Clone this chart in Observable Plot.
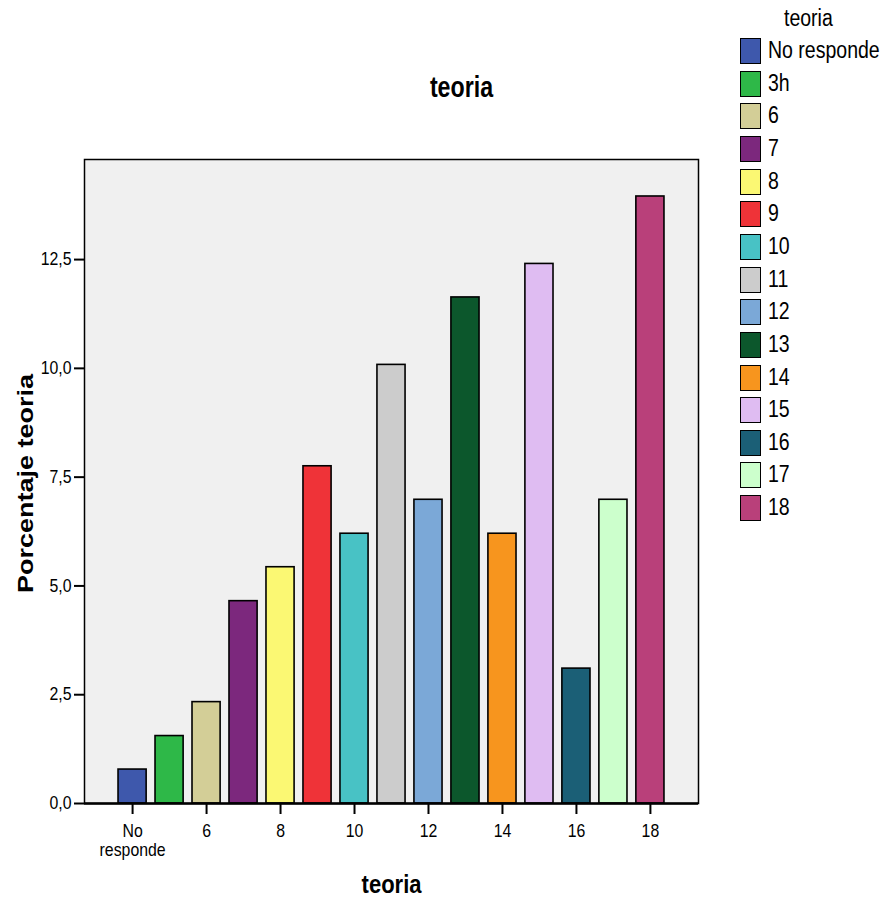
<!DOCTYPE html>
<html><head><meta charset="utf-8">
<script src="https://cdn.jsdelivr.net/npm/d3@7"></script>
<script src="https://cdn.jsdelivr.net/npm/@observablehq/plot@0.6"></script>
<style>
body{margin:0;background:#fff;}
#wrap{position:relative;width:884px;height:898px;font-family:"Liberation Sans",Arial,sans-serif;color:#000;}
#wrap svg{position:absolute;left:0;top:0;}
#title{position:absolute;left:361px;width:200px;top:70px;text-align:center;font-weight:bold;font-size:29px;line-height:34px;}
#title span{display:inline-block;transform:scaleX(0.8);transform-origin:center;}
#legend{position:absolute;left:740px;top:0;font-size:23.5px;}
#legend .lt{position:absolute;left:8px;width:120px;text-align:center;top:4px;white-space:nowrap;line-height:28px;}
#legend .lt span{display:inline-block;transform:scaleX(0.83);transform-origin:center;}
#legend .it{position:absolute;left:0;height:26px;white-space:nowrap;}
#legend .sw{position:absolute;left:0;top:0;width:19px;height:24px;border:1.5px solid #000;}
#legend .tx{position:absolute;left:28px;top:-2px;line-height:28px;transform:scaleX(0.83);transform-origin:left;}
</style>
</head><body><div id="wrap"><div id="title"></div><div id="legend"></div></div>
<script>
const categories = ["No responde","3h","6","7","8","9","10","11","12","13","14","15","16","17","18"];
const percents = [0.78,1.55,2.33,4.65,5.43,7.75,6.20,10.08,6.98,11.63,6.20,12.40,3.10,6.98,13.95];
const colors = ["#3e58ac","#2eb848","#d3ce97","#7c287d","#fbf873","#ef3338","#48c2c5","#cccccc","#7ba8d7","#0c572c","#f7951e","#dfbcf2","#1b5f76","#ccffcc","#b9407a"];
const xTickLabels = ["No responde","6","8","10","12","14","16","18"];
const yTicks = [0,2.5,5,7.5,10,12.5];
const titleText = "teoria";
const xLabel = "teoria";
const yLabel = "Porcentaje teoria";
const legendTitle = "teoria";

const font = '"Liberation Sans",Arial,sans-serif';
const data = categories.map((c, i) => ({cat: c, pct: percents[i]}));

const chart = Plot.plot({
  width: 884, height: 898,
  marginTop: 159, marginLeft: 84, marginRight: 186, marginBottom: 95,
  style: {fontFamily: font, fontSize: "18px", color: "#000", background: "transparent", overflow: "visible"},
  x: {domain: categories, paddingInner: 0.24, paddingOuter: 0.92, round: false, label: null},
  y: {domain: [0, 14.8], label: null},
  color: {domain: categories, range: colors},
  marks: [
    Plot.frame({fill: "#f0f0f0", stroke: "#000", strokeWidth: 1.5}),
    Plot.barY(data, {x: "cat", y: "pct", fill: "cat", stroke: "#000", strokeWidth: 1.6}),
    Plot.axisY({ticks: yTicks, tickFormat: d => d.toFixed(1).replace(".", ","), tickSize: 10, tickPadding: 3, strokeWidth: 2, fontSize: 18, label: null}),
    Plot.axisX({ticks: xTickLabels, tickFormat: d => d === "No responde" ? "No\nresponde" : d, tickSize: 11, tickPadding: 8, strokeWidth: 2, fontSize: 18, lineHeight: 1.1, label: null}),
    Plot.ruleY([0], {stroke: "#000", strokeWidth: 2.5}),
    Plot.text([yLabel], {text: d => d, frameAnchor: "left", dx: -59, dy: 2, rotate: -90, textAnchor: "middle", lineAnchor: "middle", fontSize: 27, fontWeight: "bold", fill: "#000"}),
    Plot.text([xLabel], {text: d => d, frameAnchor: "bottom", dy: 81, textAnchor: "middle", lineAnchor: "middle", fontSize: 26.5, fontWeight: "bold", fill: "#000"})
  ]
});
const wrap = document.getElementById("wrap");
wrap.prepend(chart);

// narrow the glyphs horizontally, as in the reference's condensed typeface
const svgRect = chart.getBoundingClientRect();
chart.querySelectorAll("text").forEach(t => {
  const cs = getComputedStyle(t);
  const s = (cs.fontWeight === "700" || cs.fontWeight === "bold") ? 0.83 : 0.88;
  const r = t.getBoundingClientRect();
  const anchor = cs.textAnchor;
  let cx = anchor === "end" ? r.right : anchor === "middle" ? (r.left + r.right) / 2 : r.left;
  cx -= svgRect.left;
  const m = t.parentNode.getCTM();
  const px = m ? (cx - m.e) / m.a : cx;
  const g = document.createElementNS("http://www.w3.org/2000/svg", "g");
  g.setAttribute("transform", `translate(${px},0) scale(${s},1) translate(${-px},0)`);
  t.parentNode.insertBefore(g, t);
  g.appendChild(t);
});

d3.select("#title").append("span").text(titleText);
const leg = d3.select("#legend");
leg.append("div").attr("class", "lt").append("span").text(legendTitle);
categories.forEach((c, i) => {
  const it = leg.append("div").attr("class", "it").style("top", (38 + i * 32.65) + "px");
  it.append("div").attr("class", "sw").style("background", colors[i]);
  it.append("div").attr("class", "tx").text(c);
});
</script>
</body></html>
